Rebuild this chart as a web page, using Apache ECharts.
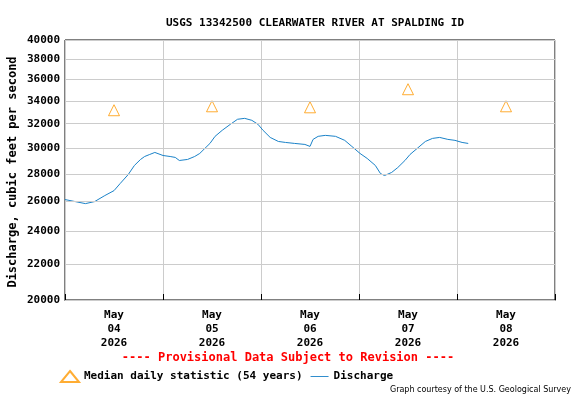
<!DOCTYPE html>
<html><head><meta charset="utf-8">
<script src="https://cdn.jsdelivr.net/npm/echarts@6/dist/echarts.min.js"></script>
<style>html,body{margin:0;background:#fff}#c{width:576px;height:400px}</style>
</head><body><div id="c"></div>
<script>
var dayLabels = ['May\n04\n2026', 'May\n05\n2026', 'May\n06\n2026', 'May\n07\n2026', 'May\n08\n2026'];
var yTicks = [20000, 22000, 24000, 26000, 28000, 30000, 32000, 34000, 36000, 38000, 40000];
var medianTimes = ['2026-05-04 12:00', '2026-05-05 12:00', '2026-05-06 12:00', '2026-05-07 12:00', '2026-05-08 12:00'];
var medianValues = [33170, 33520, 33430, 35080, 33520];
var flowTimes = [
  '2026-05-04 00:00', '2026-05-04 02:30', '2026-05-04 05:00', '2026-05-04 07:15', '2026-05-04 09:45',
  '2026-05-04 12:00', '2026-05-04 13:30', '2026-05-04 15:30', '2026-05-04 17:00', '2026-05-04 18:30',
  '2026-05-04 19:30', '2026-05-04 20:45', '2026-05-04 22:00', '2026-05-05 00:00', '2026-05-05 01:45',
  '2026-05-05 03:00', '2026-05-05 04:00', '2026-05-05 06:00', '2026-05-05 07:45', '2026-05-05 09:00',
  '2026-05-05 10:15', '2026-05-05 11:30', '2026-05-05 12:45', '2026-05-05 14:30', '2026-05-05 16:30',
  '2026-05-05 18:15', '2026-05-05 20:00', '2026-05-05 21:45', '2026-05-05 23:15', '2026-05-06 00:30',
  '2026-05-06 02:15', '2026-05-06 04:15', '2026-05-06 06:00', '2026-05-06 08:15', '2026-05-06 10:45',
  '2026-05-06 12:00', '2026-05-06 12:45', '2026-05-06 14:00', '2026-05-06 15:45', '2026-05-06 18:15',
  '2026-05-06 20:30', '2026-05-06 22:15', '2026-05-07 00:15', '2026-05-07 02:00', '2026-05-07 04:00',
  '2026-05-07 05:15', '2026-05-07 06:15', '2026-05-07 08:00', '2026-05-07 09:30', '2026-05-07 11:15',
  '2026-05-07 12:30', '2026-05-07 14:15', '2026-05-07 16:15', '2026-05-07 18:00', '2026-05-07 19:45',
  '2026-05-07 21:45', '2026-05-07 23:30', '2026-05-08 01:15', '2026-05-08 02:45'
];
var flowValues = [
  26140, 26000, 25860, 26000, 26420,
  26770, 27280, 27950, 28630, 29090,
  29320, 29480, 29640, 29400, 29320,
  29250, 29010, 29090, 29320, 29560,
  29960, 30360, 30940, 31440, 31950,
  32380, 32460, 32290, 31950, 31440,
  30850, 30520, 30440, 30360, 30280,
  30120, 30690, 30940, 31020, 30940,
  30610, 30120, 29560, 29170, 28630,
  28020, 27870, 28100, 28470, 29010,
  29480, 29960, 30520, 30770, 30850,
  30690, 30610, 30440, 30360
];

var mono = 'DejaVu Sans Mono';
var chart = echarts.init(document.getElementById('c'));
chart.setOption({
  animation: false,
  title: {
    text: 'USGS 13342500 CLEARWATER RIVER AT SPALDING ID', left: 310, top: 13, textAlign: 'center',
    textStyle: { fontFamily: mono, fontSize: 11, fontWeight: 'bold', color: '#000' }
  },
  graphic: [
    { type: 'text', left: 'center', top: 352, style: { text: '---- Provisional Data Subject to Revision ----', fill: '#f00', font: 'bold 12px "DejaVu Sans Mono"' } },
    { type: 'text', right: 5, top: 386, style: { text: 'Graph courtesy of the U.S. Geological Survey', fill: '#000', font: '8px "DejaVu Sans"' } },
    { type: 'text', x: 13, y: 172, rotation: Math.PI / 2, style: { text: 'Discharge, cubic feet per second', fill: '#000', font: 'bold 12px "DejaVu Sans Mono"', align: 'center', verticalAlign: 'middle' } }
  ],
  legend: {
    left: 55, top: 365, itemGap: 8, itemWidth: 18, itemHeight: 11,
    textStyle: { fontFamily: mono, fontSize: 11, fontWeight: 'bold', color: '#000' },
    data: [
      { name: 'Median daily statistic (54 years)', icon: 'triangle' },
      { name: 'Discharge', icon: 'path://M0,5L20,5L20,6L0,6Z' }
    ]
  },
  grid: { left: 65, right: 21, top: 40, bottom: 100, show: true, borderColor: '#000', borderWidth: 1 },
  xAxis: [{
    type: 'time', min: '2026-05-04 00:00', max: '2026-05-09 00:00', interval: 86400000,
    axisLabel: { show: false }, axisTick: { show: true, inside: true, length: 6, lineStyle: { color: '#000' } },
    axisLine: { lineStyle: { color: '#000' } },
    splitLine: { show: true, lineStyle: { color: '#ccc', width: 1 } }
  }, {
    type: 'category', position: 'bottom', data: dayLabels, boundaryGap: true,
    axisLine: { show: false }, axisTick: { show: false },
    axisLabel: { fontFamily: mono, fontSize: 11, fontWeight: 'bold', color: '#000', lineHeight: 14, margin: 8 }
  }],
  yAxis: {
    type: 'log', min: 20000, max: 40000,
    axisLabel: { show: false }, axisTick: { show: false }, splitLine: { show: false },
    axisLine: { lineStyle: { color: '#000' } }
  },
  series: [{
    name: 'Discharge', type: 'line', showSymbol: false, symbol: 'none',
    lineStyle: { color: '#1a82c8', width: 1 }, itemStyle: { color: '#1a82c8' },
    data: flowTimes.map(function (t, i) { return [t, flowValues[i]]; }),
    markLine: {
      silent: true, symbol: 'none',
      lineStyle: { color: '#ccc', type: 'solid', width: 1 },
      label: { position: 'start', distance: 5, formatter: function (p) { return p.value; }, fontFamily: mono, fontSize: 11, fontWeight: 'bold', color: '#000' },
      data: yTicks.map(function (v) { return { yAxis: v }; })
    }
  }, {
    name: 'Median daily statistic (54 years)', type: 'scatter', symbol: 'triangle', symbolSize: 11,
    itemStyle: { color: '#fff', borderColor: '#f90', borderWidth: 1 },
    data: medianTimes.map(function (t, i) { return [t, medianValues[i]]; })
  }]
});
</script></body></html>
